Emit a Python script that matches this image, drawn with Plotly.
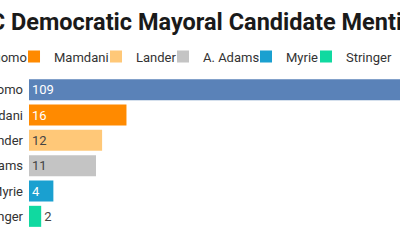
import plotly.graph_objects as go

# ---- data ----
candidates = ["Cuomo", "Mamdani", "Lander", "A. Adams", "Myrie", "Stringer"]
mentions = [109, 16, 12, 11, 4, 2]

# ---- styles ----
colors = ["#5a82b8", "#ff8a00", "#ffc878", "#c4c4c4", "#1aa0d0", "#10d9a0"]
inside_text_colors = ["#ffffff", "#ffffff", "#444444", "#444444", "#ffffff", "#444444"]
legend_x = [-0.2264, -0.0404, 0.1806, 0.3612, 0.5849, 0.7466]

FONT = "Roboto"

fig = go.Figure()
for i, (name, val) in enumerate(zip(candidates, mentions)):
    lg = "legend" if i == 0 else f"legend{i + 1}"
    fig.add_trace(go.Bar(
        x=[val], y=[name], orientation="h", name=name,
        marker=dict(color=colors[i], line=dict(width=0)),
        text=[val], textposition="auto", insidetextanchor="start",
        insidetextfont=dict(color=inside_text_colors[i], size=13, family=FONT),
        outsidetextfont=dict(color="#444444", size=13, family=FONT),
        cliponaxis=True, legend=lg, showlegend=True, hoverinfo="skip",
    ))

layout = dict(
    width=400, height=250,
    margin=dict(l=29, r=0, t=77, b=21, autoexpand=False),
    paper_bgcolor="white", plot_bgcolor="white",
    showlegend=True,
    barmode="overlay", bargap=0.17,
    font=dict(family=FONT, size=13, color="#333333"),
    title=dict(
        text="<b>NYC Democratic Mayoral Candidate Mentions</b>",
        x=0.5, xanchor="center", xref="container",
        y=0.911, yanchor="middle", yref="container",
        font=dict(family=FONT, size=23.5, color="#1a1a1a"),
    ),
    xaxis=dict(range=[0, 60.9], visible=False, fixedrange=True),
    yaxis=dict(
        categoryorder="array", categoryarray=candidates, autorange="reversed",
        showgrid=False, showline=False, zeroline=False, ticks="",
        ticklabelstandoff=5,
        tickfont=dict(family=FONT, size=13, color="#333333"),
        automargin=False, fixedrange=True,
    ),
)
for i in range(len(candidates)):
    key = "legend" if i == 0 else f"legend{i + 1}"
    layout[key] = dict(
        orientation="h", x=legend_x[i], xanchor="left",
        y=1.135, yanchor="middle",
        font=dict(family=FONT, size=13, color="#333333"),
        bgcolor="rgba(0,0,0,0)", borderwidth=0,
        itemwidth=30, visible=True,
    )
fig.update_layout(**layout)

fig.write_html("out.html")
